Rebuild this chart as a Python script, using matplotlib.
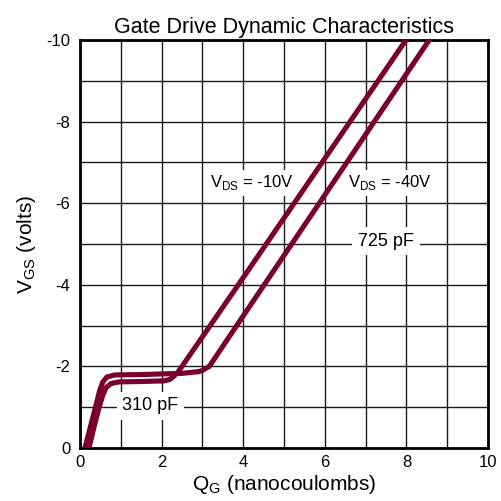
import matplotlib
matplotlib.use("Agg")
import matplotlib.pyplot as plt
from matplotlib.ticker import MultipleLocator

plt.rcParams['font.family'] = ['Liberation Sans', 'DejaVu Sans']
plt.rcParams['mathtext.fontset'] = 'custom'
plt.rcParams['mathtext.rm'] = 'Liberation Sans'

# --- data ---
qg_10v = [0.22, 0.34, 0.47, 0.56, 0.64, 0.76, 0.95, 1.5, 2.05, 2.2, 2.3, 2.4,
          2.5, 3.19, 3.88, 5.25, 6.62, 7.99]
vgs_10v = [0.0, -0.5, -1.0, -1.3, -1.48, -1.58, -1.62, -1.63, -1.645, -1.68,
           -1.76, -1.86, -2.0, -3.0, -4.0, -6.0, -8.0, -10.0]

qg_40v = [0.12, 0.25, 0.38, 0.48, 0.56, 0.66, 0.85, 1.5, 2.5, 2.9, 3.0, 3.08,
          3.17, 3.84, 5.19, 6.54, 8.56]
vgs_40v = [0.0, -0.5, -1.0, -1.4, -1.62, -1.74, -1.79, -1.80, -1.83, -1.87,
           -1.9, -1.95, -2.0, -3.0, -5.0, -7.0, -10.0]

x_ticks = [0, 2, 4, 6, 8, 10]
y_ticks = [0, -2, -4, -6, -8, -10]

curve_color = '#7a0030'

fig = plt.figure(figsize=(5.02, 5.01), dpi=100)
ax = fig.add_axes([80/502, 1-448/501, 408/502, 408/501])

ax.plot(qg_10v, vgs_10v, color=curve_color, lw=3.7, solid_capstyle='round',
        solid_joinstyle='round', zorder=4)
ax.plot(qg_40v, vgs_40v, color=curve_color, lw=3.7, solid_capstyle='round',
        solid_joinstyle='round', zorder=4)

ax.set_xlim(0, 10)
ax.set_ylim(0, -10)
ax.set_xticks(x_ticks)
ax.set_yticks(y_ticks)
ax.xaxis.set_minor_locator(MultipleLocator(1))
ax.yaxis.set_minor_locator(MultipleLocator(1))
ax.set_xticklabels([str(v) for v in x_ticks])
ax.set_yticklabels([str(v) for v in y_ticks])
ax.tick_params(which='both', length=0, labelsize=12, colors='black')
ax.tick_params(axis='y', pad=7)
ax.tick_params(axis='x', pad=5)
ax.grid(which='both', color='#1a1a1a', lw=1.0)
ax.set_axisbelow(True)
for s in ax.spines.values():
    s.set_linewidth(2.0)
    s.set_color('black')

ax.set_title('Gate Drive Dynamic Characteristics', fontsize=15.5, pad=5)
ax.set_xlabel(r'Q$_{\mathrm{G}}$ (nanocoulombs)', fontsize=15, labelpad=2)
ax.set_ylabel(r'V$_{\mathrm{GS}}$ (volts)', fontsize=15, labelpad=6)

box = dict(facecolor='white', edgecolor='none', pad=2.5)
ax.text(4.22, -6.5, r'V$_{\mathrm{DS}}$ = -10V', fontsize=12, ha='center',
        va='center', bbox=box, zorder=3)
ax.text(7.6, -6.5, r'V$_{\mathrm{DS}}$ = -40V', fontsize=12, ha='center',
        va='center', bbox=box, zorder=3)
ax.text(7.5, -5.07, '725 pF', fontsize=13, ha='center', va='center',
        bbox=dict(facecolor='white', edgecolor='none', pad=4), zorder=3)
ax.text(1.72, -1.03, '310 pF', fontsize=13, ha='center', va='center',
        bbox=dict(facecolor='white', edgecolor='none', pad=4), zorder=3)

fig.savefig('out.png', dpi=100)
